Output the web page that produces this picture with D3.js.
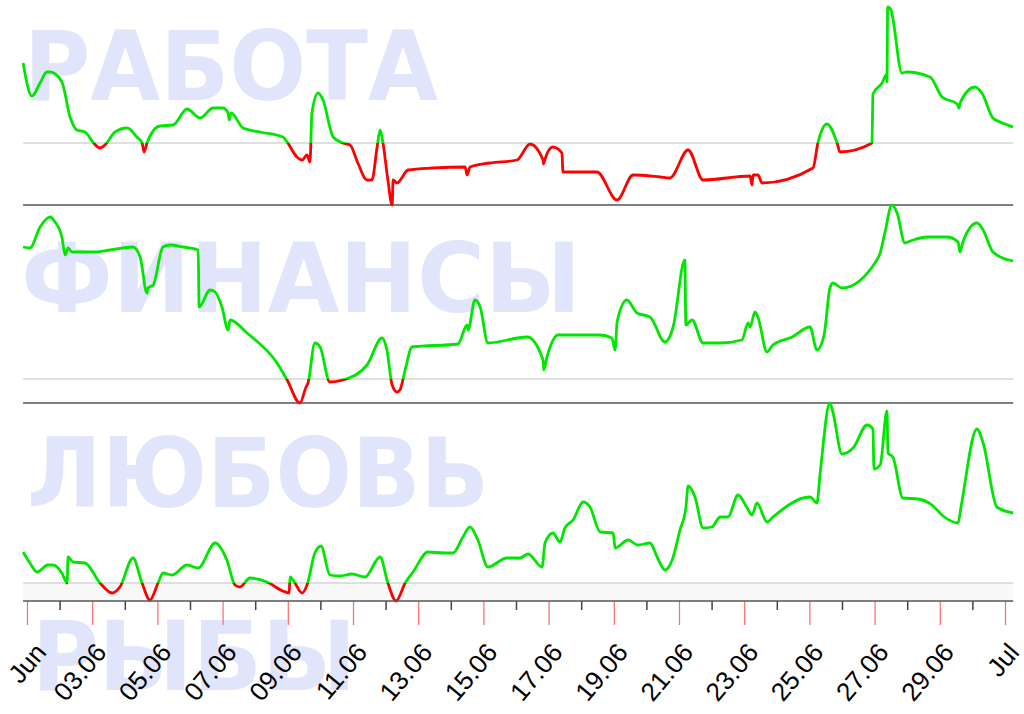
<!DOCTYPE html>
<html><head><meta charset="utf-8">
<script src="https://cdn.jsdelivr.net/npm/d3@7/dist/d3.min.js"></script>
<style>html,body{margin:0;padding:0;background:#fff;overflow:hidden}</style>
</head><body>
<svg id="chart" width="1024" height="714"></svg>
<script>
// ---- data (day of June, fractional; value relative to the threshold 0) ----
const titles = ["РАБОТА", "ФИНАНСЫ", "ЛЮБОВЬ", "РЫБЫ"];

const days1 = [0.88,1.15,1.40,1.61,1.71,2.07,2.32,2.53,2.78,3.02,3.24,3.39,3.70,4.07,4.37,4.53,4.59,4.68,5.08,5.48,5.91,6.31,6.71,7.01,7.17,7.20,7.26,7.63,8.15,8.85,8.98,9.28,9.44,9.59,9.68,9.74,9.93,10.08,10.39,10.69,10.91,11.15,11.43,11.58,11.74,11.83,11.92,12.07,12.20,12.23,12.35,12.69,13.45,14.44,14.50,14.59,15.20,16.03,16.43,16.83,16.85,16.88,17.13,17.41,17.44,18.48,19.10,19.59,20.42,20.72,21.28,21.74,23.18,23.24,23.27,23.42,23.55,25.11,25.26,25.54,25.85,25.94,26.92,26.95,27.23,27.36,27.38,27.40,27.50,27.84,27.99,28.70,29.07,29.53,29.59,29.62,30.08,30.29,30.63,30.85,31.25];
const vals1 = [80,47,60,71,71,61,26,13,11,1,-5,-2,11,15,6,0,-9,0,17,18,34,25,35,35,30,23,30,15,11,6,1,-14,-17,-12,-19,30,50,43,6,0,-2,-20,-37,-37,-4,13,0,-37,-62,-37,-40,-27,-25,-24,-32,-24,-20,-17,-1,-17,-21,-17,-4,-10,-29,-29,-57,-32,-34,-35,-7,-37,-33,-42,-32,-32,-40,-25,0,19,0,-9,0,49,60,68,61,136,133,70,71,66,46,39,35,40,56,50,25,21,16];

const days2 = [0.88,1.09,1.40,1.71,1.86,2.07,2.17,2.26,2.38,3.02,3.55,4.25,4.47,4.68,4.71,4.87,5.17,5.39,5.79,6.25,6.28,6.61,6.77,6.98,7.17,7.23,7.75,8.67,8.98,9.37,9.56,9.62,9.83,9.99,10.29,10.69,11.43,11.89,12.04,12.20,12.35,12.44,12.60,12.81,14.22,14.50,14.53,14.74,14.90,15.14,16.34,16.83,16.85,16.95,17.29,18.58,18.94,19.04,19.10,19.40,19.71,20.11,20.57,20.82,21.18,21.21,21.40,21.74,22.26,22.93,23.12,23.18,23.33,23.42,23.70,23.88,24.47,25.02,25.23,25.45,25.63,25.72,26.00,27.07,27.17,27.32,27.53,27.69,27.93,28.18,28.61,29.22,29.56,29.62,29.71,30.14,30.33,30.63,31.25];
const vals2 = [132,131,152,162,157,142,124,131,127,127,129,132,122,86,91,94,132,134,132,129,72,89,87,72,49,59,46,16,-1,-24,-8,-4,36,32,-3,-1,14,41,29,-6,-13,-11,9,32,35,54,49,79,72,36,42,19,9,22,44,44,41,29,57,79,66,62,37,52,119,54,59,36,36,39,56,52,67,62,27,34,42,52,29,44,91,96,91,119,126,147,174,166,136,139,142,142,137,127,137,156,149,127,118];

const days3 = [0.88,1.09,1.31,1.64,1.80,2.07,2.23,2.26,2.41,2.78,3.24,3.61,3.85,4.25,4.53,4.77,5.02,5.17,5.45,5.91,6.25,6.77,7.13,7.38,7.53,7.84,8.36,8.85,9.04,9.07,9.16,9.44,9.59,9.83,10.02,10.29,10.60,10.97,11.37,11.83,12.07,12.32,12.60,12.84,13.30,13.82,14.07,14.37,14.59,14.83,15.14,15.72,16.12,16.37,16.80,16.89,17.13,17.35,17.50,17.75,18.06,18.27,18.58,18.98,19.04,19.44,19.74,20.11,20.33,20.57,20.79,21.03,21.21,21.28,21.49,21.74,22.01,22.26,22.50,22.81,23.09,23.24,23.39,23.70,23.88,25.02,25.23,25.33,25.63,25.72,26.00,26.34,26.77,26.95,26.98,27.17,27.38,27.41,27.56,27.87,28.33,28.76,29.10,29.56,29.65,30.14,30.33,30.75,31.25];
const vals3 = [31,20,11,18,18,10,0,26,21,20,0,-10,-4,25,0,-17,0,10,8,18,15,40,23,-2,-4,5,1,-8,-10,6,3,-10,-2,30,37,8,7,9,6,26,0,-18,0,11,31,30,30,46,56,43,16,25,25,29,16,40,50,41,55,63,81,76,51,50,35,43,38,40,26,13,23,53,75,97,86,55,56,66,66,88,75,68,80,61,66,86,80,110,180,171,129,135,158,154,114,118,172,130,126,85,84,78,67,60,76,154,140,76,70];

const tickDaysStart = 1, tickDaysEnd = 31; // Jun 1 .. Jul 1

// ---- helpers ----
const base = new Date(2023, 5, 1);
const toDate = d => new Date(base.getTime() + (d - 1) * 864e5);

const svg = d3.select("#chart");
const W = 1024;
const x = d3.scaleTime().domain([toDate(1), toDate(31)]).range([27, 1005]);

const panelTop = [7, 205, 403], panelH = 198;
const series = [[days1, vals1], [days2, vals2], [days3, vals3]];

// watermark titles
const wm = [
  {t: titles[0], x: 24, y: 100, len: 414},
  {t: titles[1], x: 21, y: 312, len: 560},
  {t: titles[2], x: 27, y: 507, len: 462},
  {t: titles[3], x: 32, y: 690, len: 324}
];
svg.append("g").selectAll("text").data(wm).join("text")
  .attr("x", d => d.x).attr("y", d => d.y)
  .attr("textLength", d => d.len).attr("lengthAdjust", "spacingAndGlyphs")
  .style("font-family", "'DejaVu Sans', sans-serif").style("font-weight", "bold")
  .style("font-size", "97px").style("fill", "#e1e5fb")
  .text(d => d.t);

const first = toDate(days1[0]), last = toDate(days1[days1.length - 1]);

series.forEach(([days, vals], i) => {
  const top = panelTop[i], bottom = top + panelH;
  const y = d3.scaleLinear().domain(d3.extent(vals)).range([bottom, top]);
  const pts = days.map((d, k) => [toDate(d), vals[k]]);
  const g = svg.append("g");

  if (i === 2) {
    g.append("rect").attr("x", x(first)).attr("width", x(last) - x(first))
      .attr("y", y(0)).attr("height", bottom - y(0)).attr("fill", "#f9f9f9");
  }
  // threshold line
  g.append("line").attr("x1", x(first)).attr("x2", x(last))
    .attr("y1", y(0)).attr("y2", y(0)).attr("stroke", "#d4d4d4").attr("stroke-width", 1.5);
  // separator (bottom) line for upper panels
  if (i < 2) {
    g.append("line").attr("x1", x(first)).attr("x2", x(last))
      .attr("y1", bottom).attr("y2", bottom).attr("stroke", "#555").attr("stroke-width", 1.5);
  }

  const line = d3.line().x(p => x(p[0])).y(p => y(p[1])).curve(d3.curveMonotoneX);
  const idA = "ca" + i, idB = "cb" + i;
  const defs = svg.append("defs");
  defs.append("clipPath").attr("id", idA).append("rect")
    .attr("x", 0).attr("width", W).attr("y", top - 10).attr("height", y(0) - (top - 10));
  defs.append("clipPath").attr("id", idB).append("rect")
    .attr("x", 0).attr("width", W).attr("y", y(0)).attr("height", bottom + 10 - y(0));

  g.append("path").datum(pts).attr("d", line).attr("fill", "none")
    .attr("stroke", "#00e600").attr("stroke-width", 2.8).attr("stroke-linejoin", "round")
    .attr("clip-path", `url(#${idA})`);
  g.append("path").datum(pts).attr("d", line).attr("fill", "none")
    .attr("stroke", "#ff0000").attr("stroke-width", 2.8).attr("stroke-linejoin", "round")
    .attr("clip-path", `url(#${idB})`);
});

// ---- x axis ----
const axisY = panelTop[2] + panelH;
const tickVals = d3.range(tickDaysStart, tickDaysEnd + 1).map(toDate);
const fmt = d => d.getDate() === 1 ? d3.timeFormat("%b")(d) : d3.timeFormat("%d.%m")(d);
const ax = svg.append("g").attr("transform", `translate(0,${axisY})`)
  .call(d3.axisBottom(x).tickValues(tickVals).tickFormat(fmt).tickSizeOuter(0));
ax.select(".domain").remove();
ax.append("line").attr("x1", x(first)).attr("x2", x(last)).attr("stroke", "#555").attr("stroke-width", 1.5);
ax.selectAll(".tick").each(function (d, k) {
  const t = d3.select(this);
  const major = k % 2 === 0;
  t.select("line").attr("y2", major ? 24 : 9)
    .attr("stroke", major ? "#ff6a6a" : "#444").attr("stroke-width", major ? 1.2 : 1.5);
  if (!major) { t.select("text").remove(); return; }
  const shift = k === 0 ? 20 : 15;
  t.select("text").attr("x", 0).attr("y", 0).attr("dy", 0)
    .attr("text-anchor", "end")
    .attr("transform", `translate(${shift},52) rotate(-50)`)
    .style("font-family", "'Liberation Sans', Arial, sans-serif")
    .style("font-size", "26px").style("fill", "#000");
});
</script>
</body></html>
